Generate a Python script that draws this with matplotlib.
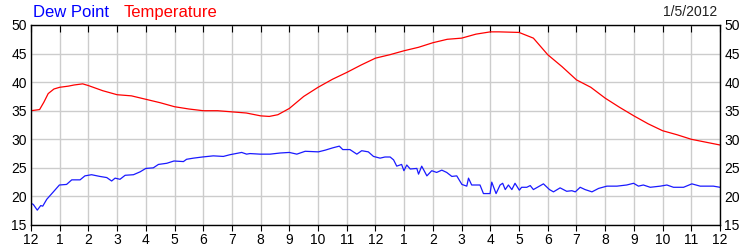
import matplotlib
matplotlib.use("Agg")
import matplotlib.pyplot as plt

plt.rcParams['font.family'] = ['Liberation Sans', 'DejaVu Sans']

# hours since midnight
temp_hours = [0, 0.3, 0.45, 0.6, 0.8, 1.0, 1.3, 1.5, 1.8, 2.0, 2.5, 3.0, 3.5, 4.0,
              4.5, 5.0, 5.5, 6.0, 6.5, 7.0, 7.5, 8.0, 8.3, 8.6, 9.0, 9.5, 10.0,
              10.5, 11.0, 11.5, 12.0, 12.5, 13.0, 13.5, 14.0, 14.5, 15.0, 15.5,
              16.0, 16.3, 17.0, 17.5, 18.0, 18.5, 19.0, 19.5, 20.0, 20.5, 21.0,
              21.5, 22.0, 22.5, 23.0, 23.5, 24.0]
temp_vals = [35.0, 35.2, 36.5, 38.0, 38.8, 39.1, 39.3, 39.5, 39.7, 39.4, 38.5,
             37.8, 37.6, 37.0, 36.4, 35.7, 35.3, 35.0, 35.0, 34.8, 34.6, 34.1,
             34.0, 34.3, 35.4, 37.5, 39.1, 40.5, 41.7, 43.0, 44.2, 44.8, 45.5,
             46.1, 46.9, 47.5, 47.7, 48.4, 48.8, 48.8, 48.7, 47.7, 44.8, 42.7,
             40.4, 39.1, 37.2, 35.6, 34.1, 32.7, 31.5, 30.8, 30.0, 29.5, 29.0]

dew_hours = [0, 0.08, 0.22, 0.34, 0.41, 0.55, 0.78, 0.99, 1.24, 1.42, 1.71, 1.88,
             2.11, 2.40, 2.64, 2.81, 2.93, 3.10, 3.28, 3.57, 3.80, 4.00, 4.26,
             4.44, 4.73, 4.98, 5.31, 5.42, 5.66, 5.97, 6.35, 6.70, 6.93, 7.34,
             7.51, 7.63, 7.98, 8.33, 8.68, 9.00, 9.26, 9.55, 10.01, 10.25, 10.51,
             10.74, 10.86, 11.11, 11.35, 11.52, 11.75, 11.93, 12.16, 12.33, 12.51,
             12.63, 12.74, 12.91, 12.99, 13.09, 13.21, 13.44, 13.50, 13.61, 13.79,
             13.96, 14.13, 14.31, 14.48, 14.66, 14.83, 15.01, 15.18, 15.24, 15.35,
             15.64, 15.76, 15.99, 16.05, 16.20, 16.34, 16.43, 16.52, 16.63, 16.75,
             16.86, 17.01, 17.09, 17.27, 17.39, 17.50, 17.85, 18.06, 18.20, 18.43,
             18.66, 18.84, 18.96, 19.13, 19.30, 19.54, 19.77, 20.06, 20.41, 20.75,
             20.99, 21.16, 21.33, 21.57, 21.92, 22.15, 22.38, 22.73, 23.02, 23.31,
             23.77, 24.0]
dew_vals = [18.8, 18.6, 17.6, 18.4, 18.3, 19.5, 20.8, 22.0, 22.1, 22.9, 22.9, 23.6,
            23.8, 23.5, 23.3, 22.7, 23.2, 23.0, 23.7, 23.8, 24.3, 24.9, 25.0,
            25.6, 25.8, 26.2, 26.1, 26.5, 26.7, 26.9, 27.1, 27.0, 27.3, 27.7,
            27.4, 27.5, 27.4, 27.4, 27.6, 27.7, 27.4, 27.9, 27.8, 28.1, 28.5,
            28.8, 28.2, 28.2, 27.4, 28.0, 27.8, 27.0, 26.7, 26.9, 26.9,
            26.4, 25.3, 25.6, 24.5, 25.5, 24.8, 24.9, 23.9, 25.3, 23.6,
            24.5, 24.2, 24.6, 24.2, 23.5, 23.6, 22.1, 21.8, 23.2, 22.0,
            22.0, 20.5, 20.5, 22.5, 20.5, 22.0, 22.3, 21.2, 22.0, 21.2,
            22.3, 21.1, 21.6, 21.6, 21.9, 21.2, 22.2, 21.2, 20.8, 21.5,
            20.9, 21.0, 20.8, 21.6, 21.2, 20.8, 21.4, 21.8, 21.8, 22.0,
            22.3, 21.8, 22.0, 21.6, 21.8, 22.0, 21.6, 21.6, 22.2, 21.8,
            21.8, 21.6]

hour_labels = ['12', '1', '2', '3', '4', '5', '6', '7', '8', '9', '10', '11',
               '12', '1', '2', '3', '4', '5', '6', '7', '8', '9', '10', '11', '12']
y_ticks = [15, 20, 25, 30, 35, 40, 45, 50]

fig = plt.figure(figsize=(7.5, 2.5), dpi=100)
ax = fig.add_axes([0.0413, 0.1, 0.9187, 0.8])

ax.plot(temp_hours, temp_vals, color='#ff0000', lw=0.9)
ax.plot(dew_hours, dew_vals, color='#1a1aff', lw=0.9)

ax.set_xlim(0, 24)
ax.set_ylim(15, 50)
ax.set_xticks(range(25))
ax.set_xticklabels(hour_labels)
ax.set_yticks(y_ticks)
ax.grid(True, color='#cccccc', lw=1)
ax.set_axisbelow(True)

ax.tick_params(axis='x', direction='out', length=4, labelsize=10, pad=2,
               top=True, color='black')
ax.tick_params(axis='y', length=0, labelsize=10, pad=3,
               right=True, labelright=True)
for sp in ax.spines.values():
    sp.set_linewidth(1)

# top ticks point into the plot
for t in ax.xaxis.get_major_ticks():
    t.tick2line.set_marker(3)
    t.tick2line.set_markersize(5)

fig.text(0.044, 0.95, 'Dew Point', color='#0000ff', fontsize=12, va='center')
fig.text(0.165, 0.95, 'Temperature', color='#ff0000', fontsize=12, va='center')
fig.text(0.957, 0.95, '1/5/2012', color='#202020', fontsize=10, va='center', ha='right')

fig.savefig('out.png', dpi=100)
